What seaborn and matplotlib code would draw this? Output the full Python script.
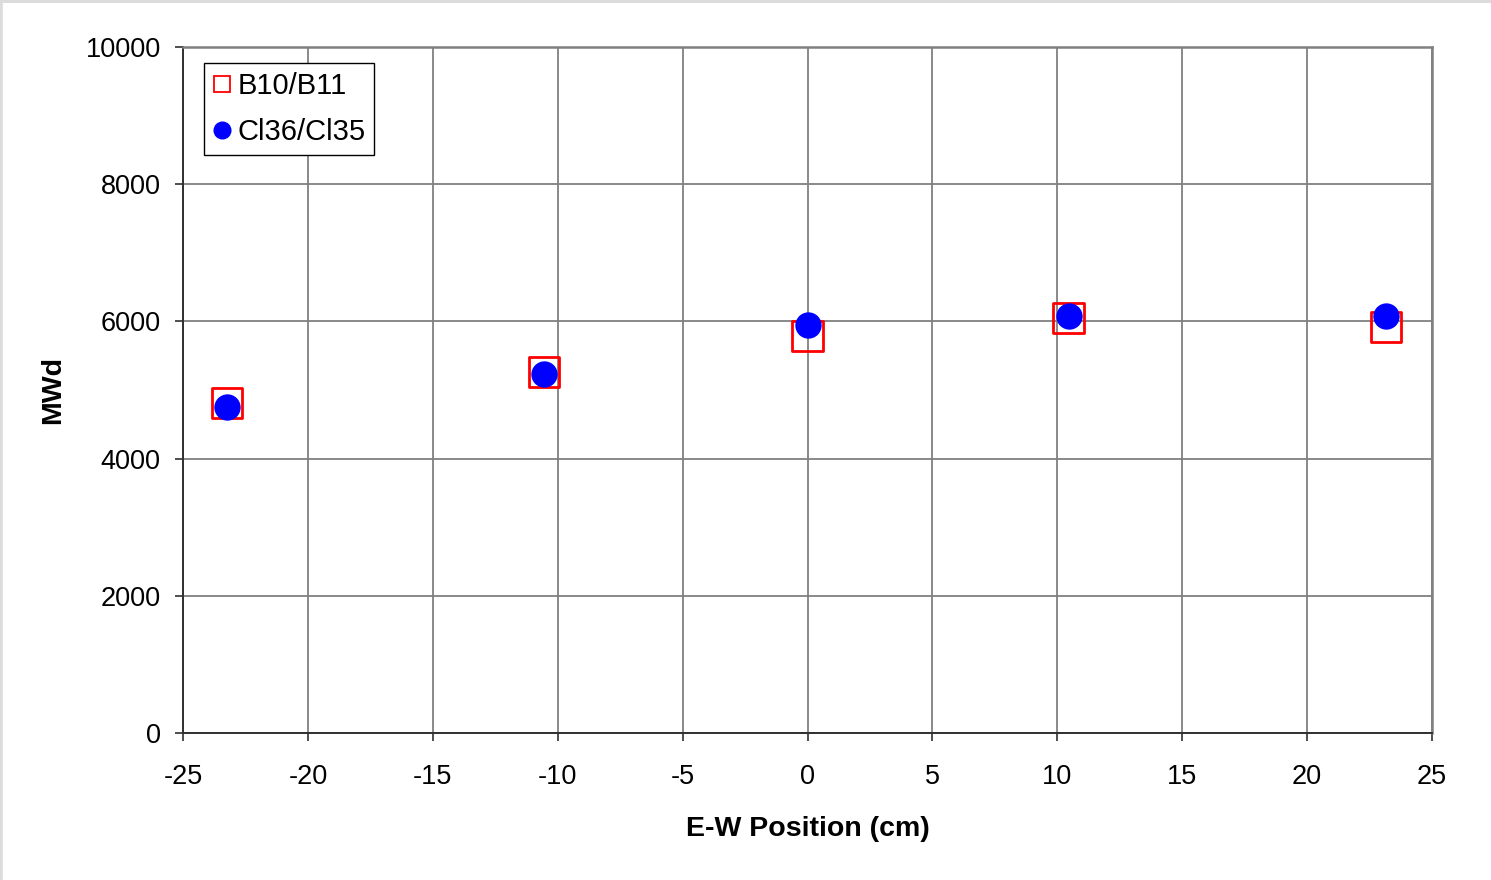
import matplotlib
matplotlib.use("Agg")
import matplotlib.pyplot as plt
from matplotlib.lines import Line2D
import seaborn as sns
import pandas as pd

# data
position_cm = [-23.25, -10.55, 0.0, 10.45, 23.15]
mwd_b10_b11 = [4805, 5265, 5785, 6050, 5915]
mwd_cl36_cl35 = [4750, 5240, 5950, 6080, 6080]
x_ticks = [-25, -20, -15, -10, -5, 0, 5, 10, 15, 20, 25]
y_ticks = [0, 2000, 4000, 6000, 8000, 10000]

sns.set_style("white")
plt.rcParams['font.family'] = ['Liberation Sans', 'DejaVu Sans']
plt.rcParams['axes.unicode_minus'] = False
plt.rcParams['text.color'] = 'black'
plt.rcParams['axes.labelcolor'] = 'black'
plt.rcParams['xtick.color'] = 'black'
plt.rcParams['ytick.color'] = 'black'

df_b = pd.DataFrame({'pos': position_cm, 'mwd': mwd_b10_b11})
df_c = pd.DataFrame({'pos': position_cm, 'mwd': mwd_cl36_cl35})

fig = plt.figure(figsize=(14.91, 8.80), dpi=100)
ax = fig.add_axes([183 / 1491, 1 - 733 / 880, 1249 / 1491, 686 / 880])

# hollow red squares, then filled blue circles on top
sns.scatterplot(data=df_b, x='pos', y='mwd', ax=ax, marker='s', s=470,
                facecolor='none', edgecolor='red', linewidth=2.0, zorder=3)
sns.scatterplot(data=df_c, x='pos', y='mwd', ax=ax, marker='o', s=360,
                color='blue', edgecolor='blue', linewidth=0, zorder=4)

ax.set_xlim(-25, 25)
ax.set_ylim(0, 10000)
ax.set_xticks(x_ticks)
ax.set_yticks(y_ticks)
ax.grid(True, color='#808080', linewidth=1.3)
ax.set_axisbelow(True)

for side in ['top', 'right']:
    ax.spines[side].set_color('#808080')
    ax.spines[side].set_linewidth(1.8)
for side in ['left', 'bottom']:
    ax.spines[side].set_color('#303030')
    ax.spines[side].set_linewidth(1.4)

ax.tick_params(axis='x', direction='out', length=6, width=1.2, color='#303030',
               labelsize=19.5, pad=16, bottom=True)
ax.tick_params(axis='y', direction='out', length=6, width=1.2, color='#303030',
               labelsize=19.5, pad=10, left=True)

ax.set_xlabel('E-W Position (cm)', fontsize=20.5, fontweight='bold', labelpad=19)
ax.set_ylabel('MWd', fontsize=20.5, fontweight='bold', labelpad=14)

handles = [
    Line2D([], [], linestyle='none', marker='s', markersize=11,
           markerfacecolor='none', markeredgecolor='red', markeredgewidth=1.3),
    Line2D([], [], linestyle='none', marker='o', markersize=12,
           markerfacecolor='blue', markeredgecolor='blue'),
]
leg = ax.legend(handles, ['B10/B11', 'Cl36/Cl35'], loc='upper left',
                bbox_to_anchor=(21 / 1249, 1 - 16 / 686), borderaxespad=0,
                fontsize=21, frameon=True, fancybox=False, framealpha=1,
                handlelength=0.6, handletextpad=0.25, labelspacing=0.62,
                borderpad=0.3)
leg.get_frame().set_edgecolor('black')
leg.get_frame().set_linewidth(1.0)

# thin light border at the top and left edge of the picture
fig.add_artist(Line2D([0, 1], [0.9985, 0.9985], color='#dcdcdc', linewidth=2.2,
                      transform=fig.transFigure))
fig.add_artist(Line2D([0.001, 0.001], [0, 1], color='#dcdcdc', linewidth=2.6,
                      transform=fig.transFigure))

fig.savefig('out.png', dpi=100)
